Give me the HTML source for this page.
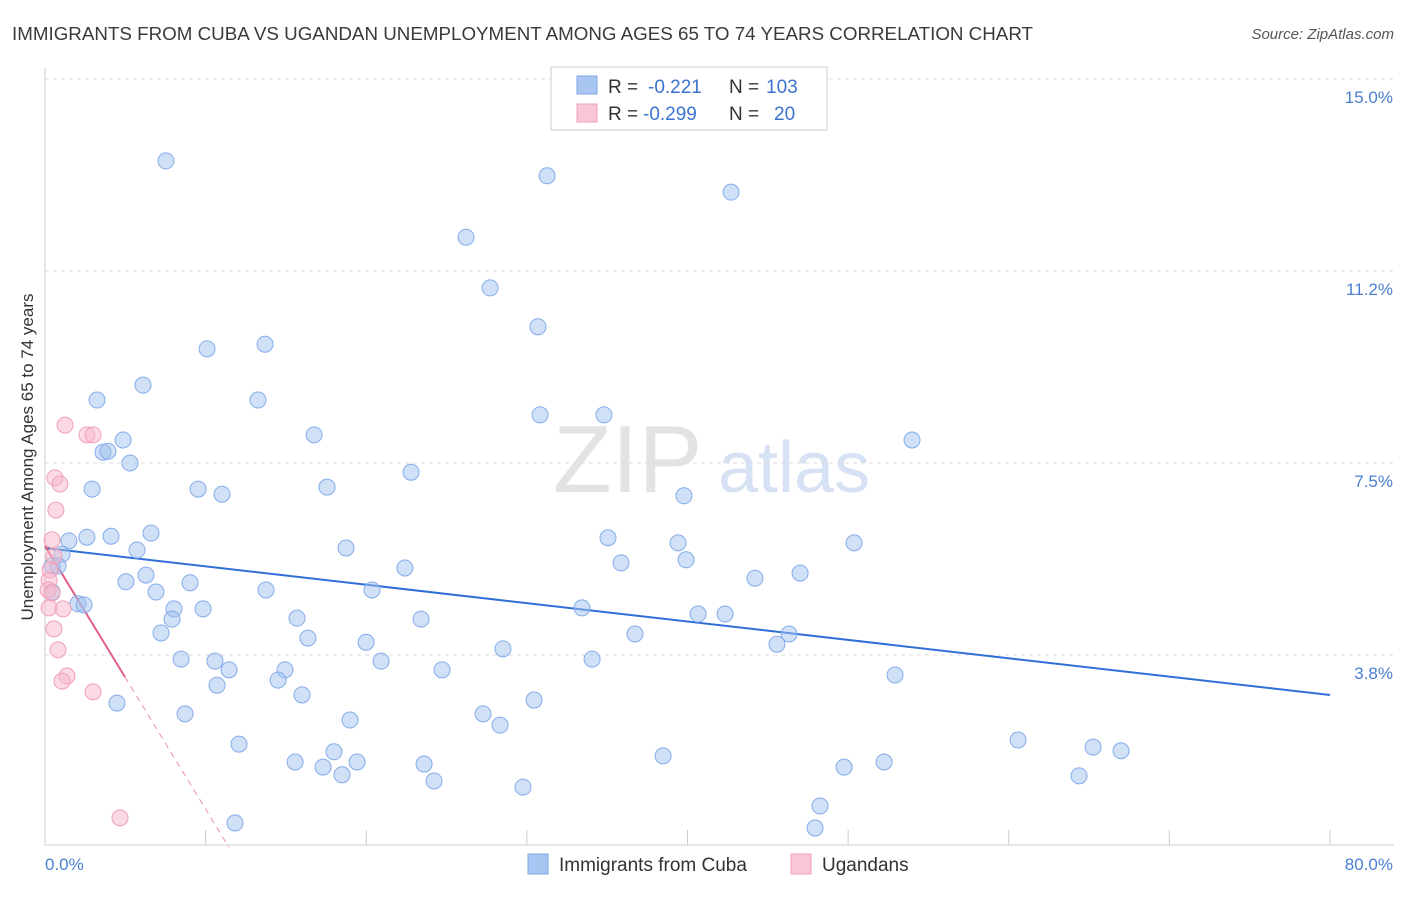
<!DOCTYPE html>
<html><head><meta charset="utf-8"><style>
body{margin:0;background:#fff;font-family:"Liberation Sans",sans-serif;}
svg text{font-family:"Liberation Sans",sans-serif;}
</style></head><body>
<svg id="chart" width="1406" height="892" xmlns="http://www.w3.org/2000/svg">
<text x="12" y="40" font-size="18.5" fill="#3a3a3a" textLength="1021" lengthAdjust="spacingAndGlyphs">IMMIGRANTS FROM CUBA VS UGANDAN UNEMPLOYMENT AMONG AGES 65 TO 74 YEARS CORRELATION CHART</text>
<text x="1394" y="39" font-size="15" fill="#555" font-style="italic" text-anchor="end">Source: ZipAtlas.com</text>
<text x="553" y="492" font-size="96" fill="#d8d8d8" font-family="Liberation Serif" opacity="0.7">ZIP</text>
<text x="718" y="492" font-size="72" fill="#c5d6ef" opacity="0.7">atlas</text>
<g id="grid"></g>
<g id="axes"></g>
<g id="lines"></g>
<g id="points"></g>
<text transform="translate(33,457) rotate(-90)" font-size="17" fill="#333" text-anchor="middle">Unemployment Among Ages 65 to 74 years</text>
<text x="45" y="870" font-size="17" fill="#4a7fd0">0.0%</text>
<text x="1393" y="870" font-size="17" fill="#4a7fd0" text-anchor="end">80.0%</text>
<g>
<rect x="551" y="67" width="276" height="63" fill="#fff" stroke="#ccc"/>
<rect x="577" y="76" width="20" height="18" fill="#a9c6f2" stroke="#7fa6e0"/>
<rect x="577" y="104" width="20" height="18" fill="#f8c6d5" stroke="#eea3bb"/>
<text x="608" y="93" font-size="19" fill="#333">R =</text>
<text x="648" y="93" font-size="19" fill="#3a74d0">-0.221</text>
<text x="729" y="93" font-size="19" fill="#333">N =</text>
<text x="766" y="93" font-size="19" fill="#3a74d0">103</text>
<text x="608" y="120" font-size="19" fill="#333">R =</text>
<text x="643" y="120" font-size="19" fill="#3a74d0">-0.299</text>
<text x="729" y="120" font-size="19" fill="#333">N =</text>
<text x="774" y="120" font-size="19" fill="#3a74d0">20</text>
</g>
<g>
<rect x="528" y="854" width="20" height="20" fill="#a9c6f2" stroke="#7fa6e0"/>
<text x="559" y="871" font-size="19" fill="#333">Immigrants from Cuba</text>
<rect x="791" y="854" width="20" height="20" fill="#f8c6d5" stroke="#eea3bb"/>
<text x="822" y="871" font-size="19" fill="#333">Ugandans</text>
</g>
</svg>
<script>
const yTicks=[3.75,7.5,11.25,15];
const yTickLabels=["3.8%","7.5%","11.2%","15.0%"];
const xTicks=[0,10,20,30,40,50,60,70,80];
const cubaX=[7.53,31.26,42.71,26.21,27.71,30.69,10.09,13.70,6.10,3.24,13.26,30.82,34.80,4.86,16.75,53.98,3.61,3.92,5.29,22.79,2.93,9.53,17.56,11.02,39.78,6.60,2.61,4.11,1.49,35.05,39.41,50.37,1.06,18.74,5.73,0.44,0.81,22.41,35.86,39.91,6.29,47.01,44.20,5.04,9.03,0.44,6.91,13.76,20.36,2.05,2.43,8.03,9.84,33.43,40.66,42.34,7.91,15.69,23.41,7.22,36.73,46.32,16.37,19.99,45.57,28.51,8.47,10.58,20.92,34.06,11.46,14.94,24.72,52.92,14.51,10.71,16.00,4.48,30.45,8.72,27.27,18.99,28.33,12.08,60.58,17.99,65.25,66.99,15.57,19.43,23.60,38.48,52.24,17.31,49.75,18.49,64.38,24.22,29.76,48.25,11.83,47.94];
const cubaY=[13.40,13.11,12.79,11.91,10.92,10.16,9.73,9.82,9.02,8.73,8.73,8.44,8.44,7.95,8.05,7.95,7.71,7.73,7.50,7.32,6.99,6.99,7.03,6.89,6.86,6.13,6.05,6.07,5.98,6.04,5.94,5.94,5.72,5.84,5.80,5.49,5.49,5.45,5.55,5.61,5.31,5.35,5.25,5.18,5.16,4.98,4.98,5.02,5.02,4.75,4.73,4.65,4.65,4.67,4.55,4.55,4.45,4.47,4.45,4.18,4.16,4.16,4.08,4.00,3.96,3.87,3.67,3.63,3.63,3.67,3.46,3.46,3.46,3.36,3.26,3.16,2.97,2.81,2.87,2.60,2.60,2.48,2.38,2.01,2.09,1.86,1.95,1.88,1.66,1.66,1.62,1.78,1.66,1.56,1.56,1.41,1.39,1.29,1.17,0.80,0.47,0.37];
const ugX=[1.25,2.61,2.99,0.62,0.93,0.68,0.44,0.56,0.31,0.25,0.19,0.44,0.25,1.12,0.56,0.81,1.37,1.06,2.99,4.67];
const ugY=[8.24,8.05,8.05,7.21,7.09,6.58,6.00,5.68,5.41,5.21,5.02,4.96,4.67,4.65,4.26,3.85,3.34,3.24,3.03,0.57];
const cubaTrend=[5.84,-0.0359];
const ugTrend=[5.88,-0.514];
const ugSolidEnd=4.98;

const NS="http://www.w3.org/2000/svg";
const X=v=>45+v/80*1285, Y=v=>847-v*51.2;
function mk(tag,attrs,parent){const e=document.createElementNS(NS,tag);for(const k in attrs)e.setAttribute(k,attrs[k]);document.getElementById(parent).appendChild(e);return e;}
yTicks.forEach((t,i)=>{
 const g=mk('line',{x1:45,x2:1394,y1:Y(t),y2:Y(t),stroke:'#ddd','stroke-dasharray':'4,4'},'grid');
 
 
 const l=mk('text',{x:1393,y:Y(t)+24,'font-size':17,fill:'#4a7fd0','text-anchor':'end'},'grid');
 l.textContent=yTickLabels[i];
 
 
});
const xa=mk('line',{x1:45,x2:1394,y1:845,y2:845,stroke:'#ccc'},'axes');


const ya=mk('line',{x1:45,x2:45,y1:68,y2:845,stroke:'#ccc'},'axes');


xTicks.forEach(t=>{
 const k=mk('line',{x1:X(t),x2:X(t),y1:830,y2:845,stroke:'#ccc'},'axes');
 
 
});
const bl=mk('line',{x1:X(0),y1:Y(cubaTrend[0]),x2:X(80),y2:Y(cubaTrend[0]+cubaTrend[1]*80),stroke:'#2f6fd6','stroke-width':2},'lines');


const pl=mk('line',{x1:X(0),y1:Y(ugTrend[0]),x2:X(ugSolidEnd),y2:Y(ugTrend[0]+ugTrend[1]*ugSolidEnd),stroke:'#e0608a','stroke-width':2},'lines');


const zx=-ugTrend[0]/ugTrend[1];
const pd=mk('line',{x1:X(ugSolidEnd),y1:Y(ugTrend[0]+ugTrend[1]*ugSolidEnd),x2:X(zx),y2:Y(0),stroke:'#e890ac','stroke-width':1,'stroke-dasharray':'6,5'},'lines');


cubaX.forEach((x,i)=>{
 const c=mk('circle',{cx:X(x),cy:Y(cubaY[i]),r:8,fill:'rgba(160,194,240,0.5)',stroke:'#85acea','stroke-width':1},'points');
 
 
});
ugX.forEach((x,i)=>{
 const c=mk('circle',{cx:X(x),cy:Y(ugY[i]),r:8,fill:'rgba(248,182,202,0.5)',stroke:'#f0a0b8','stroke-width':1},'points');
 
 
});
</script>
</body></html>
